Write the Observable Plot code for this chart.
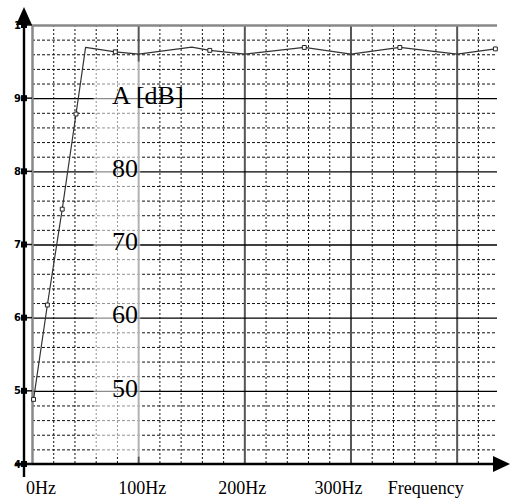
<!DOCTYPE html>
<html>
<head>
<meta charset="utf-8">
<script src="https://cdn.jsdelivr.net/npm/d3@7"></script>
<script src="https://cdn.jsdelivr.net/npm/@observablehq/plot@0.6"></script>
<style>
  html, body { margin: 0; padding: 0; background: #fff; }
</style>
</head>
<body>
<div id="chart"></div>
<script>
// Frequency response
const freq = [1, 14, 28, 41, 50, 78, 100, 150, 167, 200, 256, 300, 346, 400, 436];
const ampl = [48.9, 61.8, 74.9, 87.9, 97.0, 96.4, 96.1, 97.05, 96.6, 96.1, 97.0, 96.1, 97.0, 96.1, 96.8];
// points drawn with square markers
const markerFreq = [1, 14, 28, 41, 78, 167, 256, 346, 436];
const markerAmpl = [48.9, 61.8, 74.9, 87.9, 96.4, 96.6, 97.0, 97.0, 96.8];

const yTicks = [40, 50, 60, 70, 80, 90, 100];
const yTickLabels = ["4", "5", "6", "7", "8", "9", "1"];
const bigYLabels = ["50", "60", "70", "80", "A [dB]"];
const bigYValues = [50, 60, 70, 80, 90];
const xTickLabels = ["0Hz", "100Hz", "200Hz", "300Hz", "Frequency"];
const xTickValues = [0, 100, 200, 300, 400];
const xMajor = [100, 200, 300, 400];
const yMajor = [50, 60, 70, 80, 90];

const lineData = freq.map((f, i) => ({f, a: ampl[i]}));
const markerData = markerFreq.map((f, i) => ({f, a: markerAmpl[i]}));
const xMinor = d3.range(20, 440, 20).filter(v => v % 100 !== 0);
const yMinor = d3.range(42, 100, 2).filter(v => v % 10 !== 0);

// label placement nudges (pixels) for the x labels
const xLabelDx = [9, 4, -2, -12, -31];

function axes(index, scales, values, dims) {
  const g = d3.create("svg:g");
  const x = scales.x, y = scales.y;
  const ax = dims.marginLeft - 8;
  const y0 = y(40);
  const right = dims.width - 1;
  // vertical axis
  g.append("line").attr("x1", ax).attr("x2", ax).attr("y1", y0 + 13).attr("y2", 14)
    .attr("stroke", "#000").attr("stroke-width", 2.4);
  g.append("path").attr("d", `M${ax},7 L${ax - 8},25 L${ax + 8},25 Z`).attr("fill", "#000");
  // horizontal axis
  g.append("line").attr("x1", ax - 9).attr("x2", right - 12).attr("y1", y0).attr("y2", y0)
    .attr("stroke", "#000").attr("stroke-width", 2.6);
  g.append("path").attr("d", `M${right},${y0} L${right - 17},${y0 - 8} L${right - 17},${y0 + 8} Z`).attr("fill", "#000");
  // y ticks: squares + small bold labels
  yTicks.forEach((t, i) => {
    const py = y(t);
    g.append("line").attr("x1", ax).attr("x2", dims.marginLeft).attr("y1", py).attr("y2", py)
      .attr("stroke", "#111").attr("stroke-width", 1.5);
    g.append("rect").attr("x", ax - 3).attr("y", py - 3).attr("width", 6).attr("height", 6).attr("fill", "#000");
    g.append("text").attr("x", ax - 3).attr("y", py).attr("dy", "0.36em")
      .attr("text-anchor", "end").attr("font-family", "DejaVu Sans").attr("font-weight", "bold")
      .attr("font-size", 10).attr("fill", "#000").text(yTickLabels[i]);
  });
  // x labels
  xTickValues.forEach((t, i) => {
    g.append("text").attr("x", x(t) + xLabelDx[i]).attr("y", y0 + 30)
      .attr("text-anchor", "middle").attr("font-family", "Liberation Serif")
      .attr("font-size", 18).attr("fill", "#000").text(xTickLabels[i]);
  });
  return g.node();
}

const chart = Plot.plot({
  width: 511,
  height: 500,
  marginTop: 25,
  marginBottom: 36,
  marginLeft: 32,
  marginRight: 14,
  style: {background: "#fff", overflow: "visible"},
  x: {domain: [0, 438], axis: null},
  y: {domain: [40, 100], axis: null},
  marks: [
    Plot.ruleX(xMinor, {stroke: "#111", strokeWidth: 1, strokeDasharray: "2,2"}),
    Plot.ruleY(yMinor, {stroke: "#111", strokeWidth: 1, strokeDasharray: "3,2"}),
    Plot.ruleX(xMajor, {stroke: "#555", strokeWidth: 2}),
    Plot.ruleY(yMajor, {stroke: "#000", strokeWidth: 1.4}),
    Plot.ruleY([100], {stroke: "#888", strokeWidth: 2.5}),
    Plot.ruleX([0], {stroke: "#888", strokeWidth: 2.5}),
    Plot.rect([{x1: 58, x2: 102, y1: 41, y2: 95}], {x1: "x1", x2: "x2", y1: "y1", y2: "y2", fill: "#fff", fillOpacity: 0.55}),
    Plot.line(lineData, {x: "f", y: "a", stroke: "#333", strokeWidth: 1.2}),
    Plot.dot(markerData, {x: "f", y: "a", symbol: "square", r: 2.2, stroke: "#222", strokeWidth: 1, fill: "#fff"}),
    Plot.text(bigYValues, {x: 75, y: d => d, text: (d, i) => bigYLabels[i], textAnchor: "start",
      fontFamily: "Liberation Serif", fontSize: 26, fill: "#000", dy: -3}),
    axes
  ]
});
document.getElementById("chart").appendChild(chart);
</script>
</body>
</html>
